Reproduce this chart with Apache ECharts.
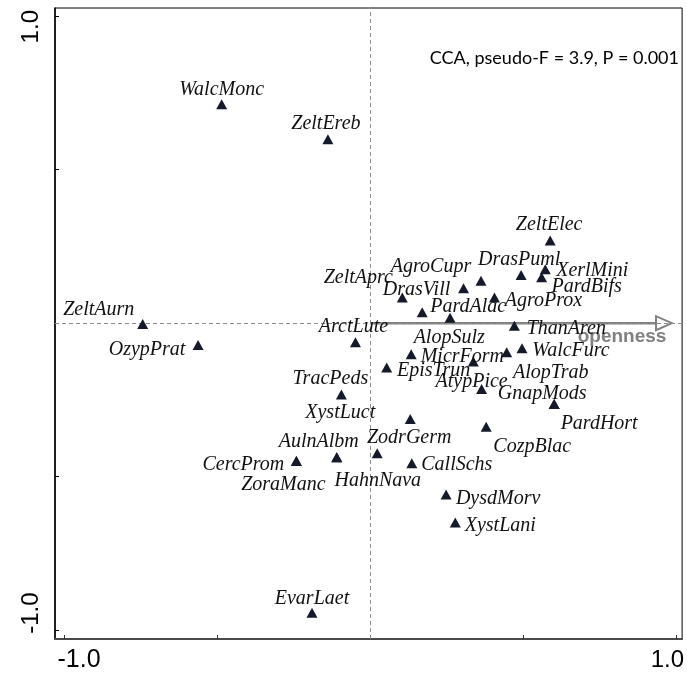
<!DOCTYPE html>
<html>
<head>
<meta charset="utf-8">
<title>CCA species biplot</title>
<script src="https://cdn.jsdelivr.net/npm/echarts@6/dist/echarts.min.js"></script>
<style>
  html, body { margin: 0; padding: 0; background: #fff; }
  #chart { width: 687px; height: 678px; }
</style>
</head>
<body>
<div id="chart"></div>
<script>
// Species scores on CCA axis 1 (x) and axis 2 (y)
const speciesNames = [
  'WalcMonc', 'ZeltEreb', 'ZeltAurn', 'OzypPrat',
  'ZeltElec', 'DrasPuml', 'XerlMini', 'PardBifs', 'AgroCupr', 'DrasVill',
  'ZeltAprc', 'AgroProx', 'PardAlac', '', 'ThanAren',
  'ArctLute', 'AlopSulz', 'MicrForm', 'AlopTrab', 'WalcFurc', 'EpisTrun',
  'TracPeds', 'AtypPice', 'GnapMods', 'PardHort', 'XystLuct', 'CozpBlac',
  'ZodrGerm', 'AulnAlbm', 'HahnNava', 'CercProm', 'ZoraManc', 'CallSchs',
  'DysdMorv', 'XystLani', 'EvarLaet'
];
const axis1Scores = [
  -0.485, -0.138, -0.743, -0.562,
  0.588, 0.493, 0.572, 0.560, 0.362, 0.305,
  0.105, 0.406, 0.170, 0.261, 0.471,
  -0.048, 0.134, 0.337, 0.446, 0.496, 0.054,
  -0.094, 0.364, 0.601, 0.601, 0.131, 0.379,
  0.023, -0.109, -0.109, -0.241, -0.241, 0.136,
  0.248, 0.278, -0.190
];
const axis2Scores = [
  0.713, 0.599, -0.003, -0.071,
  0.269, 0.157, 0.176, 0.150, 0.138, 0.114,
  0.084, 0.084, 0.036, 0.018, -0.008,
  -0.062, -0.101, -0.125, -0.095, -0.082, -0.144,
  -0.232, -0.214, -0.263, -0.263, -0.312, -0.337,
  -0.424, -0.437, -0.437, -0.449, -0.449, -0.456,
  -0.558, -0.649, -0.943
];

// Environmental variable (arrow from the origin)
const envNames = ['openness'];
const envAxis1 = [0.986];
const envAxis2 = [0.0];

// Axis ticks and labelled tick values
const tickValues = [-1.0, -0.5, 0.0, 0.5, 1.0];
const labelledTicks = [-1.0, 1.0];
const testNote = 'CCA, pseudo-F = 3.9, P = 0.001';

// Label placement around each triangle, in pixels from the symbol centre
const labelOffsets = {
  WalcMonc: [0, -15], ZeltEreb: [-2, -16], ZeltAurn: [-44, -14], OzypPrat: [-51, 5],
  ZeltElec: [-1, -16], DrasPuml: [-2, -15], XerlMini: [47, 2], PardBifs: [45, 10],
  AgroCupr: [-50, -14], DrasVill: [-47, 2], ZeltAprc: [-44, -20], AgroProx: [49, 3],
  PardAlac: [46, -5], ThanAren: [52, 3], ArctLute: [-2, -15], AlopSulz: [38, -16],
  MicrForm: [-11, -5], AlopTrab: [44, 20], WalcFurc: [49, 2], EpisTrun: [47, 3],
  TracPeds: [-11, -16], AtypPice: [-10, -7], GnapMods: [-12, -10], PardHort: [45, 20],
  XystLuct: [-70, -6], CozpBlac: [46, 20], ZodrGerm: [32, -16], AulnAlbm: [-18, -16],
  HahnNava: [41, 23], CercProm: [-53, 4], ZoraManc: [-13, 24], CallSchs: [45, 2],
  DysdMorv: [52, 4], XystLani: [45, 3], EvarLaet: [0, -14]
};

const SYMBOL_W = 11, SYMBOL_H = 10;

const speciesData = speciesNames.map((name, i) => {
  const off = labelOffsets[name] || [0, 0];
  return {
    name: name,
    value: [axis1Scores[i], axis2Scores[i]],
    label: {
      show: name !== '',
      // position is measured from the top-left corner of the symbol's box
      position: [SYMBOL_W / 2 + off[0], SYMBOL_H / 2 + off[1]]
    }
  };
});

const envData = envNames.map((name, i) => ({
  name: name,
  value: [0, 0, envAxis1[i], envAxis2[i]]
}));

const fmt = v => (v < 0 ? '-' : '') + Math.abs(v).toFixed(1);

const chart = echarts.init(document.getElementById('chart'), null, { renderer: 'canvas' });

const option = {
  animation: false,
  backgroundColor: '#ffffff',
  grid: {
    left: 55, right: 4, top: 8, bottom: 39,
    show: true, borderColor: '#000', borderWidth: 1, backgroundColor: 'transparent'
  },
  xAxis: {
    type: 'value',
    min: -1.0294, max: 1.0189,
    axisLine: { show: true, onZero: false, lineStyle: { color: '#4a4a4a', width: 2 } },
    axisTick: {
      show: true, inside: true, length: 4,
      customValues: tickValues,
      lineStyle: { color: '#333', width: 1 }
    },
    splitLine: { show: false },
    axisLabel: {
      show: true,
      customValues: labelledTicks,
      margin: 9,
      fontFamily: 'Liberation Sans, Arial, sans-serif',
      fontSize: 24,
      color: '#000',
      formatter: v => (v < 0 ? '{lo|' + fmt(v) + '}' : '{hi|' + fmt(v) + '}'),
      rich: {
        lo: { fontFamily: 'Liberation Sans, Arial, sans-serif', fontSize: 25, color: '#000', padding: [0, 0, 0, 30] },
        hi: { fontFamily: 'Liberation Sans, Arial, sans-serif', fontSize: 24, color: '#000', padding: [0, 18, 0, 0] }
      }
    }
  },
  yAxis: {
    type: 'value',
    min: -1.0287, max: 1.0267,
    axisLine: { show: true, onZero: false, lineStyle: { color: '#000', width: 1.5 } },
    axisTick: {
      show: true, inside: true, length: 4,
      customValues: tickValues,
      lineStyle: { color: '#000', width: 1 }
    },
    splitLine: { show: false },
    axisLabel: {
      show: true,
      customValues: labelledTicks,
      rotate: 90,
      margin: 12,
      fontFamily: 'Liberation Sans, Arial, sans-serif',
      fontSize: 24,
      color: '#000',
      formatter: v => (v < 0 ? '{lo|' + fmt(v) + '}' : '{hi|' + fmt(v) + '}'),
      rich: {
        lo: { fontFamily: 'Liberation Sans, Arial, sans-serif', fontSize: 24, color: '#000', padding: [0, 0, 0, 34] },
        hi: { fontFamily: 'Liberation Sans, Arial, sans-serif', fontSize: 24, color: '#000', padding: [0, 21, 0, 0] }
      }
    }
  },
  graphic: [
    {
      type: 'text',
      right: 8,
      top: 49,
      style: {
        text: testNote,
        font: '18px Lato, "Open Sans", sans-serif',
        fill: '#000'
      },
      z: 10
    }
  ],
  series: [
    {
      // zero reference lines
      type: 'scatter',
      data: [],
      silent: true,
      markLine: {
        silent: true,
        symbol: 'none',
        label: { show: false },
        lineStyle: { color: '#8c8c8c', width: 1, type: [4, 3] },
        data: [{ xAxis: 0 }, { yAxis: 0 }]
      },
      z: 1
    },
    {
      type: 'custom',
      data: envData,
      silent: true,
      z: 3,
      renderItem: function (params, api) {
        const p0 = api.coord([api.value(0), api.value(1)]);
        const p1 = api.coord([api.value(2), api.value(3)]);
        const dx = p1[0] - p0[0], dy = p1[1] - p0[1];
        const len = Math.sqrt(dx * dx + dy * dy);
        const ux = dx / len, uy = dy / len;
        const headLen = 16, headHalf = 7;
        const bx = p1[0] - ux * headLen, by = p1[1] - uy * headLen;
        const name = envNames[params.dataIndex];
        return {
          type: 'group',
          children: [
            {
              type: 'line',
              shape: { x1: p0[0], y1: p0[1], x2: bx, y2: by },
              style: { stroke: '#808080', lineWidth: 2.5 }
            },
            {
              type: 'polygon',
              shape: {
                points: [
                  [p1[0], p1[1]],
                  [bx - uy * headHalf, by + ux * headHalf],
                  [bx + uy * headHalf, by - ux * headHalf]
                ]
              },
              style: { stroke: '#808080', fill: '#fff', lineWidth: 2 }
            },
            {
              type: 'text',
              x: p1[0] - 50,
              y: p1[1] + 14,
              style: {
                text: name,
                font: 'bold 19px "Liberation Sans", Arial, sans-serif',
                fill: '#808080',
                align: 'center',
                verticalAlign: 'middle'
              }
            }
          ]
        };
      }
    },
    {
      type: 'scatter',
      data: speciesData,
      symbol: 'triangle',
      symbolSize: [SYMBOL_W, SYMBOL_H],
      itemStyle: { color: '#151a2b', opacity: 1 },
      z: 5,
      label: {
        show: true,
        formatter: '{b}',
        align: 'center',
        verticalAlign: 'middle',
        fontFamily: '"Liberation Serif", "Times New Roman", serif',
        fontStyle: 'italic',
        fontSize: 20,
        color: '#111',
        textBorderWidth: 0
      },
      labelLayout: { hideOverlap: false },
      emphasis: { disabled: true }
    }
  ]
};

chart.setOption(option);
</script>
</body>
</html>
